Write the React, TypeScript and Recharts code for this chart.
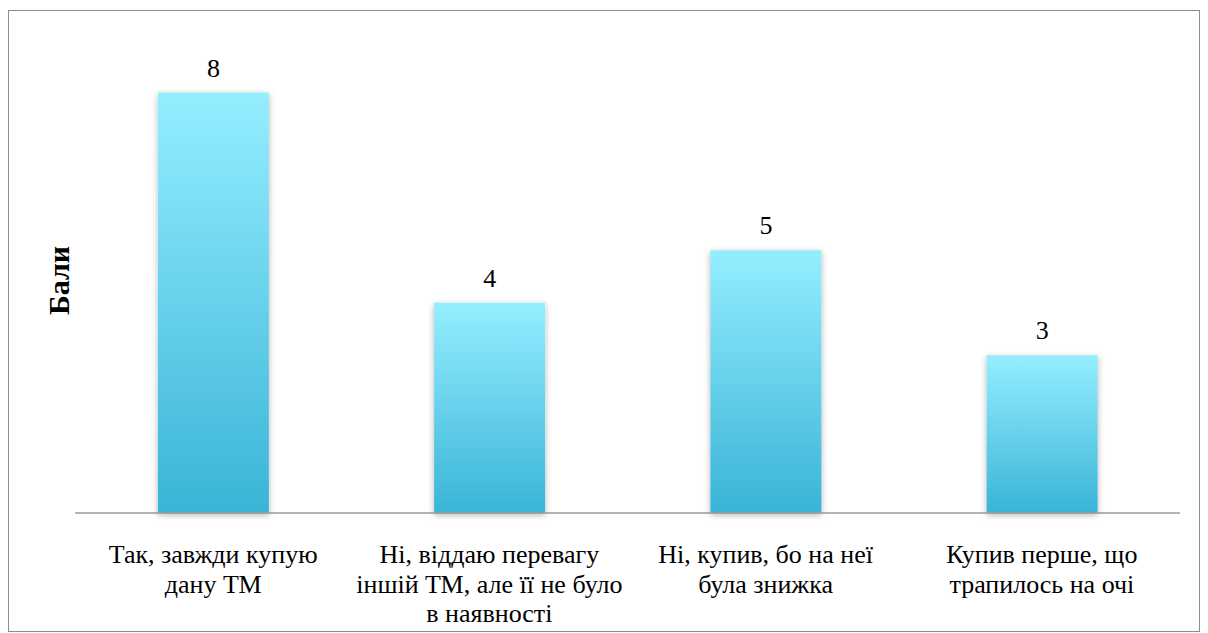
import { BarChart, Bar, XAxis, YAxis, LabelList } from 'recharts'

const categories = [
  'Так, завжди купую дану ТМ',
  'Ні, віддаю перевагу іншій ТМ, але її не було в наявності',
  'Ні, купив, бо на неї була знижка',
  'Купив перше, що трапилось на очі',
]

// line breaks as in the reference
const categoryLines = [
  ['Так, завжди купую', 'дану ТМ'],
  ['Ні, віддаю перевагу', 'іншій ТМ, але її не було', 'в наявності'],
  ['Ні, купив, бо на неї', 'була знижка'],
  ['Купив перше, що', 'трапилось на очі'],
]

const scores = [8, 4, 5, 3]

const yAxisTitle = 'Бали'

const chartData = categories.map((name, i) => ({ name, value: scores[i] }))

const serif = 'Liberation Serif'

function CategoryTick(props: any) {
  const { x, y, payload, index } = props
  const lines = categoryLines[index] ?? [payload.value]
  return (
    <text x={x} y={y} textAnchor="middle" fill="#000" style={{ fontFamily: serif, fontSize: 26 }}>
      {lines.map((line: string, i: number) => (
        <tspan key={i} x={x} dy={i === 0 ? 42 : 29.5} style={{ fontFamily: serif }}>
          {line}
        </tspan>
      ))}
    </text>
  )
}

function AxisTitle(props: any) {
  const { viewBox } = props
  const cx = viewBox.x + viewBox.width - 17
  const cy = viewBox.y + viewBox.height / 2 + 4
  return (
    <text
      x={cx}
      y={cy}
      transform={`rotate(-90 ${cx} ${cy})`}
      textAnchor="middle"
      dominantBaseline="central"
      fill="#000"
      style={{ fontFamily: serif, fontWeight: 'bold', fontSize: 30 }}
    >
      {yAxisTitle}
    </text>
  )
}

export default function App() {
  return (
    <div
      style={{
        width: 1190,
        height: 620,
        marginTop: 2,
        border: '1.5px solid #8c8c8c',
        background: '#fff',
      }}
    >
      <BarChart
        width={1190}
        height={620}
        data={chartData}
        margin={{ top: 29, right: 19, left: 0, bottom: 0 }}
        barCategoryGap="30%"
      >
        <defs>
          <linearGradient id="barFill" x1="0" y1="0" x2="0" y2="1">
            <stop offset="0%" stopColor="#95EEFF" />
            <stop offset="100%" stopColor="#3AB4D7" />
          </linearGradient>
          <filter id="barShadow" x="-20%" y="-10%" width="140%" height="120%">
            <feDropShadow dx="0" dy="2" stdDeviation="3" floodColor="#000" floodOpacity="0.3" />
          </filter>
        </defs>
        <XAxis
          dataKey="name"
          height={118}
          tickLine={false}
          interval={0}
          axisLine={{ stroke: '#9a9a9a', strokeWidth: 1.5 }}
          tick={<CategoryTick />}
        />
        <YAxis
          width={66}
          domain={[0, 9]}
          tick={false}
          tickLine={false}
          axisLine={false}
          label={<AxisTitle />}
        />
        <Bar dataKey="value" fill="url(#barFill)" filter="url(#barShadow)" isAnimationActive={false}>
          <LabelList
            dataKey="value"
            position="top"
            offset={16}
            fill="#000"
            fontFamily={serif}
            style={{ fontFamily: serif, fontSize: 26 }}
          />
        </Bar>
      </BarChart>
    </div>
  )
}
